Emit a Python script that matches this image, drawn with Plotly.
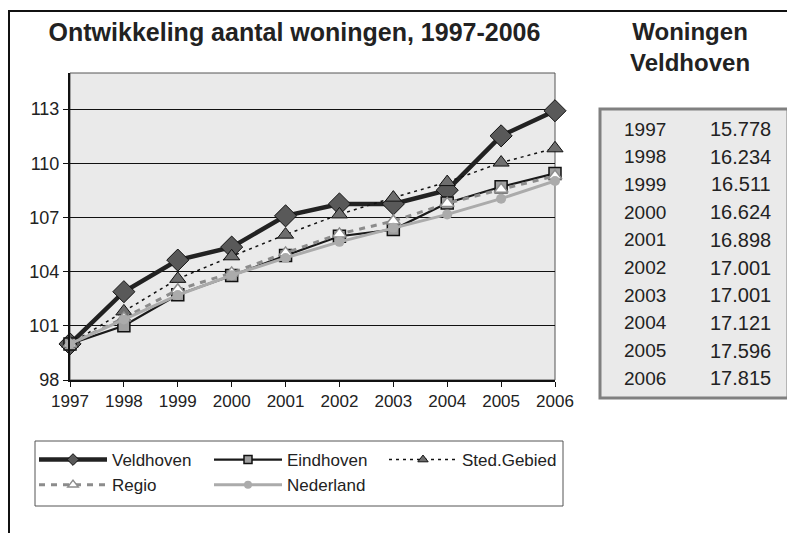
import plotly.graph_objects as go

# ---- data ----
jaren = [1997, 1998, 1999, 2000, 2001, 2002, 2003, 2004, 2005, 2006]
veldhoven = [100.0, 102.89, 104.64, 105.36, 107.09, 107.75, 107.75, 108.51, 111.52, 112.91]
eindhoven = [100.0, 101.0, 102.72, 103.78, 104.89, 105.96, 106.33, 107.8, 108.7, 109.44]
sted_gebied = [100.0, 101.8, 103.6, 104.85, 106.05, 107.17, 108.1, 108.96, 110.04, 110.83]
regio = [100.0, 101.43, 103.0, 103.93, 105.04, 106.09, 106.8, 107.78, 108.56, 109.3]
nederland = [100.0, 101.35, 102.7, 103.8, 104.76, 105.65, 106.43, 107.17, 108.04, 109.02]

tabel_jaren = ["1997", "1998", "1999", "2000", "2001", "2002", "2003", "2004", "2005", "2006"]
tabel_woningen = ["15.778", "16.234", "16.511", "16.624", "16.898",
                  "17.001", "17.001", "17.121", "17.596", "17.815"]

y_ticks = [98, 101, 104, 107, 110, 113]

FONT = "Arial, Liberation Sans, sans-serif"
W, H = 795, 533          # page size
OFF = 8                  # default body margin of the html page
L, R, T, B = 70, 555, 73, 380  # plot area in page pixels


def px_x(x):
    return (x - L) / (R - L)


def px_y(y):
    return (B - y) / (B - T)


fig = go.Figure()

# name, values, line style, marker style, legend marker size
series = [
    ("Veldhoven", veldhoven, dict(color="#222222", width=4.5),
     dict(symbol="diamond", size=17, color="#595959", line=dict(color="#111111", width=1)), 9),
    ("Eindhoven", eindhoven, dict(color="#1a1a1a", width=2.2),
     dict(symbol="square", size=12, color="#a0a0a0", line=dict(color="#111111", width=1.5)), 8),
    ("Sted.Gebied", sted_gebied, dict(color="#111111", width=1.5, dash="3px,4px"),
     dict(symbol="triangle-up", size=14, color="#6e6e6e", line=dict(color="#111111", width=1)), 9),
    ("Regio", regio, dict(color="#8c8c8c", width=3, dash="6px,6px"),
     dict(symbol="triangle-up", size=12, color="#ffffff", line=dict(color="#8c8c8c", width=1.5)), 9),
    ("Nederland", nederland, dict(color="#ababab", width=3),
     dict(symbol="circle", size=10, color="#ababab", line=dict(width=0)), 8),
]

for name, vals, line, marker, leg_size in series:
    fig.add_trace(go.Scatter(x=jaren, y=vals, name=name, mode="lines+markers",
                             line=line, marker=marker, cliponaxis=False,
                             legendgroup=name, showlegend=False))
    # legend entry with the smaller Excel-style symbol
    fig.add_trace(go.Scatter(x=[None], y=[None], name=name, mode="lines+markers",
                             line=line, marker={**marker, "size": leg_size},
                             legendgroup=name, showlegend=True))

shapes = [
    # outer frame (top + left)
    dict(type="line", xref="paper", yref="paper", x0=px_x(8), x1=px_x(W + 5),
         y0=px_y(11), y1=px_y(11), line=dict(color="#111111", width=2)),
    dict(type="line", xref="paper", yref="paper", x0=px_x(9), x1=px_x(9),
         y0=px_y(11), y1=px_y(H + 5), line=dict(color="#111111", width=2)),
    # plot area border (top/right thin)
    dict(type="rect", xref="paper", yref="paper", x0=0, x1=1, y0=0, y1=1,
         line=dict(color="#555555", width=1), layer="below"),
    # table box
    dict(type="rect", xref="paper", yref="paper", x0=px_x(600), x1=px_x(788),
         y0=px_y(109), y1=px_y(398), fillcolor="#eaeaea",
         line=dict(color="#808080", width=3)),
    # legend box
    dict(type="rect", xref="paper", yref="paper", x0=px_x(35), x1=px_x(563),
         y0=px_y(441), y1=px_y(506), fillcolor="#ffffff",
         line=dict(color="#555555", width=1)),
]

annotations = [
    dict(text="Woningen<br>Veldhoven", xref="paper", yref="paper", x=px_x(690), y=px_y(47),
         showarrow=False, xanchor="center", yanchor="middle",
         font=dict(family=FONT, size=24, color="#222222", weight="bold")),
]
row_y0, row_step = 129, 27.7
for i, (jr, wn) in enumerate(zip(tabel_jaren, tabel_woningen)):
    yy = px_y(row_y0 + i * row_step)
    annotations.append(dict(text=jr, xref="paper", yref="paper", x=px_x(622), y=yy,
                            showarrow=False, xanchor="left", yanchor="middle",
                            font=dict(family=FONT, size=19, color="#222222")))
    annotations.append(dict(text=wn, xref="paper", yref="paper", x=px_x(773), y=yy,
                            showarrow=False, xanchor="right", yanchor="middle",
                            font=dict(family=FONT, size=20, color="#222222")))

fig.update_layout(
    width=W - OFF, height=H - OFF,
    margin=dict(l=L - OFF, r=W - R, t=T - OFF, b=H - B, pad=0),
    paper_bgcolor="#ffffff",
    plot_bgcolor="#eaeaea",
    font=dict(family=FONT, size=17, color="#222222"),
    title=dict(text="Ontwikkeling aantal woningen, 1997-2006", x=(294.5 - OFF) / (W - OFF),
               xref="container", xanchor="center", y=1 - (32 - OFF) / (H - OFF),
               yanchor="middle",
               font=dict(family=FONT, size=25, color="#222222", weight="bold")),
    xaxis=dict(range=[1997, 2006], tickvals=jaren, ticks="outside", ticklen=5,
               tickcolor="#111111", showgrid=False, zeroline=False,
               showline=True, linecolor="#111111", linewidth=2,
               tickfont=dict(size=17)),
    yaxis=dict(range=[98, 115], tickvals=y_ticks, ticks="outside", ticklen=5,
               tickcolor="#111111", showgrid=True, gridcolor="#111111", gridwidth=1,
               zeroline=False, showline=True, linecolor="#111111", linewidth=2,
               tickfont=dict(size=18)),
    legend=dict(orientation="h", x=px_x(34), y=px_y(442), xanchor="left", yanchor="top",
                bgcolor="rgba(0,0,0,0)", borderwidth=0, font=dict(size=17),
                entrywidth=92, itemwidth=68, tracegroupgap=0),
    shapes=shapes,
    annotations=annotations,
)

fig.write_html("out.html")
